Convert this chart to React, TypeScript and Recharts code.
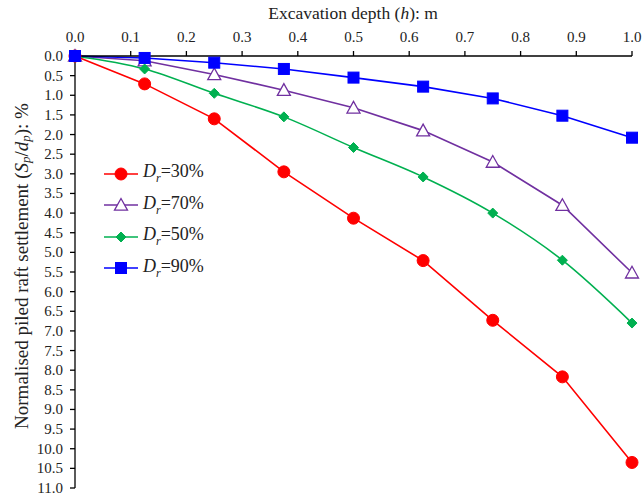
import { LineChart, Line, XAxis, YAxis } from "recharts";

const depths = [0, 0.125, 0.25, 0.375, 0.5, 0.625, 0.75, 0.875, 1.0];
const dr30 = [0, 0.71, 1.6, 2.95, 4.13, 5.21, 6.73, 8.17, 10.35];
const dr70 = [0, 0.12, 0.47, 0.87, 1.32, 1.9, 2.7, 3.8, 5.52];
const dr50 = [0, 0.33, 0.95, 1.55, 2.33, 3.08, 4.0, 5.2, 6.8];
const dr90 = [0, 0.05, 0.17, 0.33, 0.55, 0.78, 1.08, 1.52, 2.08];

const xTicks = [0, 0.1, 0.2, 0.3, 0.4, 0.5, 0.6, 0.7, 0.8, 0.9, 1.0];
const yTicks = [
  0, 0.5, 1, 1.5, 2, 2.5, 3, 3.5, 4, 4.5, 5, 5.5, 6, 6.5, 7, 7.5, 8, 8.5, 9, 9.5, 10, 10.5, 11,
];

const rows = depths.map((h, i) => ({
  h,
  dr30: dr30[i],
  dr70: dr70[i],
  dr50: dr50[i],
  dr90: dr90[i],
}));

const FONT = "Liberation Serif";

const series = [
  { key: "dr30", label: "30%", color: "#FF0000", marker: "circle" },
  { key: "dr70", label: "70%", color: "#7030A0", marker: "triangle" },
  { key: "dr50", label: "50%", color: "#00B050", marker: "diamond" },
  { key: "dr90", label: "90%", color: "#0000FF", marker: "square" },
];

function Marker({ cx, cy, kind, color }: { cx: number; cy: number; kind: string; color: string }) {
  if (cx == null || cy == null) return null;
  if (kind === "circle") return <circle cx={cx} cy={cy} r={6} fill={color} stroke={color} />;
  if (kind === "triangle") {
    const s = 6.5;
    return (
      <polygon
        points={`${cx},${cy - s} ${cx - s},${cy + s * 0.8} ${cx + s},${cy + s * 0.8}`}
        fill="#fff"
        stroke={color}
        strokeWidth={1.3}
      />
    );
  }
  if (kind === "diamond") {
    const s = 5;
    return (
      <polygon
        points={`${cx},${cy - s} ${cx + s},${cy} ${cx},${cy + s} ${cx - s},${cy}`}
        fill={color}
        stroke={color}
      />
    );
  }
  return <rect x={cx - 5.5} y={cy - 5.5} width={11} height={11} fill={color} stroke={color} />;
}

function XTick({ x, y, payload }: any) {
  return (
    <text x={x} y={y} textAnchor="middle" fontFamily={FONT} fontSize={15} fill="#222">
      {Number(payload.value).toFixed(1)}
    </text>
  );
}

function YTick({ x, y, payload }: any) {
  return (
    <text x={x} y={y + 5} textAnchor="end" fontFamily={FONT} fontSize={15} fill="#222">
      {Number(payload.value).toFixed(1)}
    </text>
  );
}

function LegendBox() {
  return (
    <div
      style={{
        position: "absolute",
        left: 104,
        top: 158,
        fontFamily: FONT,
        fontSize: 18,
        color: "#222",
      }}
    >
      {series.map((s) => (
        <div key={s.key} style={{ display: "flex", alignItems: "center", height: 31.5 }}>
          <svg width={34} height={16}>
            <line x1={0} y1={8} x2={34} y2={8} stroke={s.color} strokeWidth={1.6} />
            <Marker cx={17} cy={8} kind={s.marker} color={s.color} />
          </svg>
          <span style={{ marginLeft: 5 }}>
            <i>D</i>
            <sub style={{ fontStyle: "italic", fontSize: 12 }}>r</sub>={s.label}
          </span>
        </div>
      ))}
    </div>
  );
}

function YTitle() {
  const cx = 21;
  const cy = 266;
  return (
    <text
      x={cx}
      y={cy}
      transform={`rotate(-90 ${cx} ${cy})`}
      textAnchor="middle"
      dominantBaseline="central"
      fontFamily={FONT}
      fontSize={19}
      fill="#222"
    >
      Normalised piled raft settlement (
      <tspan fontStyle="italic">S</tspan>
      <tspan fontStyle="italic" fontSize={13} dy={4}>p</tspan>
      <tspan dy={-4}>/</tspan>
      <tspan fontStyle="italic">d</tspan>
      <tspan fontStyle="italic" fontSize={13} dy={4}>p</tspan>
      <tspan dy={-4}>): %</tspan>
    </text>
  );
}

function XTitle() {
  return (
    <text x={353} y={19} textAnchor="middle" fontFamily={FONT} fontSize={17.5} fill="#222">
      Excavation depth (<tspan fontStyle="italic">h</tspan>): m
    </text>
  );
}

export default function App() {
  return (
    <div
      style={{
        position: "absolute",
        left: 0,
        top: 0,
        width: 644,
        height: 497,
        background: "#fff",
        fontFamily: FONT,
      }}
    >
      <LineChart width={644} height={497} data={rows} margin={{ top: 0, right: 12, bottom: 9, left: 0 }}>
        <XAxis
          dataKey="h"
          type="number"
          orientation="top"
          domain={[0, 1]}
          ticks={xTicks}
          height={56}
          tickSize={5}
          tickMargin={9}
          tick={<XTick />}
          axisLine={{ stroke: "#000", strokeWidth: 1.3 }}
          tickLine={{ stroke: "#000", strokeWidth: 1.3 }}
          label={<XTitle />}
        />
        <YAxis
          type="number"
          reversed
          domain={[0, 11]}
          ticks={yTicks}
          interval={0}
          width={75}
          tickSize={5}
          tickMargin={7}
          tick={<YTick />}
          axisLine={{ stroke: "#000", strokeWidth: 1.3 }}
          tickLine={{ stroke: "#000", strokeWidth: 1.3 }}
          label={<YTitle />}
        />
        {series.map((s) => (
          <Line
            key={s.key}
            dataKey={s.key}
            type={s.key === "dr50" ? "monotone" : "linear"}
            stroke={s.color}
            strokeWidth={1.6}
            isAnimationActive={false}
            dot={(p: any) => (
              <Marker key={`${s.key}-${p.index}`} cx={p.cx} cy={p.cy} kind={s.marker} color={s.color} />
            )}
            activeDot={false}
          />
        ))}
      </LineChart>
      <LegendBox />
    </div>
  );
}
